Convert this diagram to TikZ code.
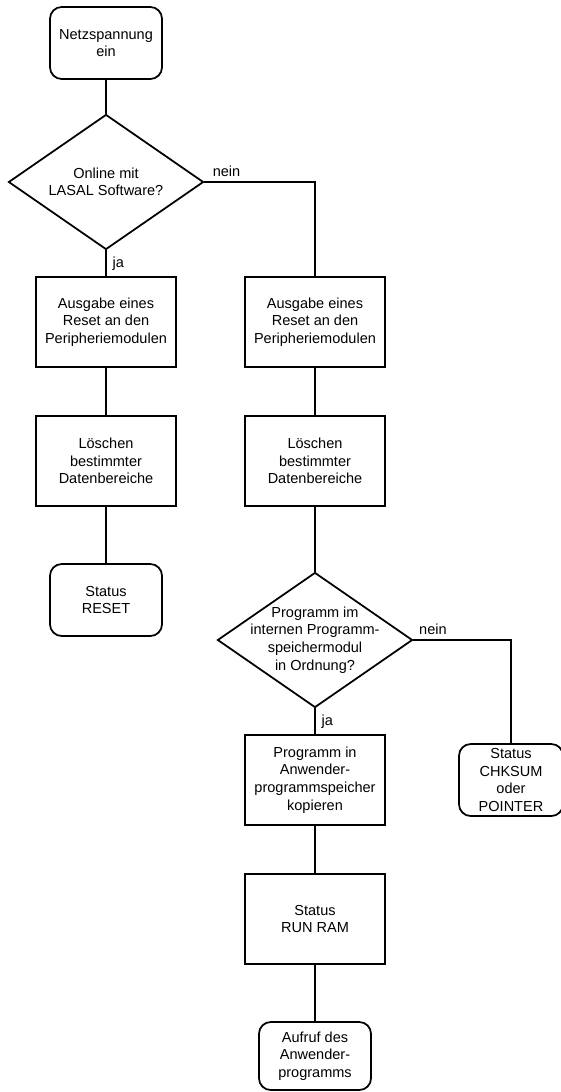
\documentclass[tikz,border=0pt]{standalone}
\usepackage{fontspec}
\setmainfont{Liberation Sans}
\usetikzlibrary{shapes.geometric}

\begin{document}
\begin{tikzpicture}[x=0.03cm, y=-0.03cm, line width=1.5pt,
    every node/.style={font=\fontsize{12.4}{15}\selectfont, align=center, inner sep=0pt},
    box/.style={draw, minimum width=140*0.03cm, minimum height=90*0.03cm},
    term/.style={draw, rounded corners=10pt, minimum width=112*0.03cm, minimum height=72*0.03cm},
    decision/.style={draw, diamond, minimum width=195*0.03cm, minimum height=135*0.03cm}]
    \useasboundingbox (0,0) rectangle (561,1092);

    % left column
    \node[term] (start) at (106,43) {Netzspannung\\ein};
    \node[decision, label={center:{Online mit\\LASAL Software?}}] (online) at (106,182) {};
    \node[box] (resetL) at (106,322) {Ausgabe eines\\Reset an den\\Peripheriemodulen};
    \node[box] (clearL) at (106,461) {Löschen\\bestimmter\\Datenbereiche};
    \node[term] (statusReset) at (106,600) {Status\\RESET};

    % right column
    \node[box] (resetR) at (315,322) {Ausgabe eines\\Reset an den\\Peripheriemodulen};
    \node[box] (clearR) at (315,461) {Löschen\\bestimmter\\Datenbereiche};
    \node[decision, label={center:{Programm im\\internen Programm-\\speichermodul\\in Ordnung?}}] (check) at (315,640) {};
    \node[box] (copy) at (315,780) {Programm in\\Anwender-\\programmspeicher\\kopieren};
    \node[box] (runram) at (315,919) {Status\\RUN RAM};
    \node[term, minimum height=68*0.03cm] (call) at (315,1056) {Aufruf des\\Anwender-\\programms};
    \node[term, minimum width=104*0.03cm] (chksum) at (511,780) {Status\\CHKSUM\\oder\\POINTER};

    \foreach \a/\b in {start/online, resetL/clearL, clearL/statusReset,
                       resetR/clearR, clearR/check, copy/runram, runram/call}
      \draw (\a.south) -- (\b.north);

    \draw (online.south) -- node[right=5pt] {ja} (resetL.north);
    \draw (online.east) -| node[pos=0.1, above=4pt] {nein} (resetR.north);
    \draw (check.south) -- node[right=5pt] {ja} (copy.north);
    \draw (check.east) -| node[pos=0.1, above=4pt] {nein} (chksum.north);
\end{tikzpicture}
\end{document}
